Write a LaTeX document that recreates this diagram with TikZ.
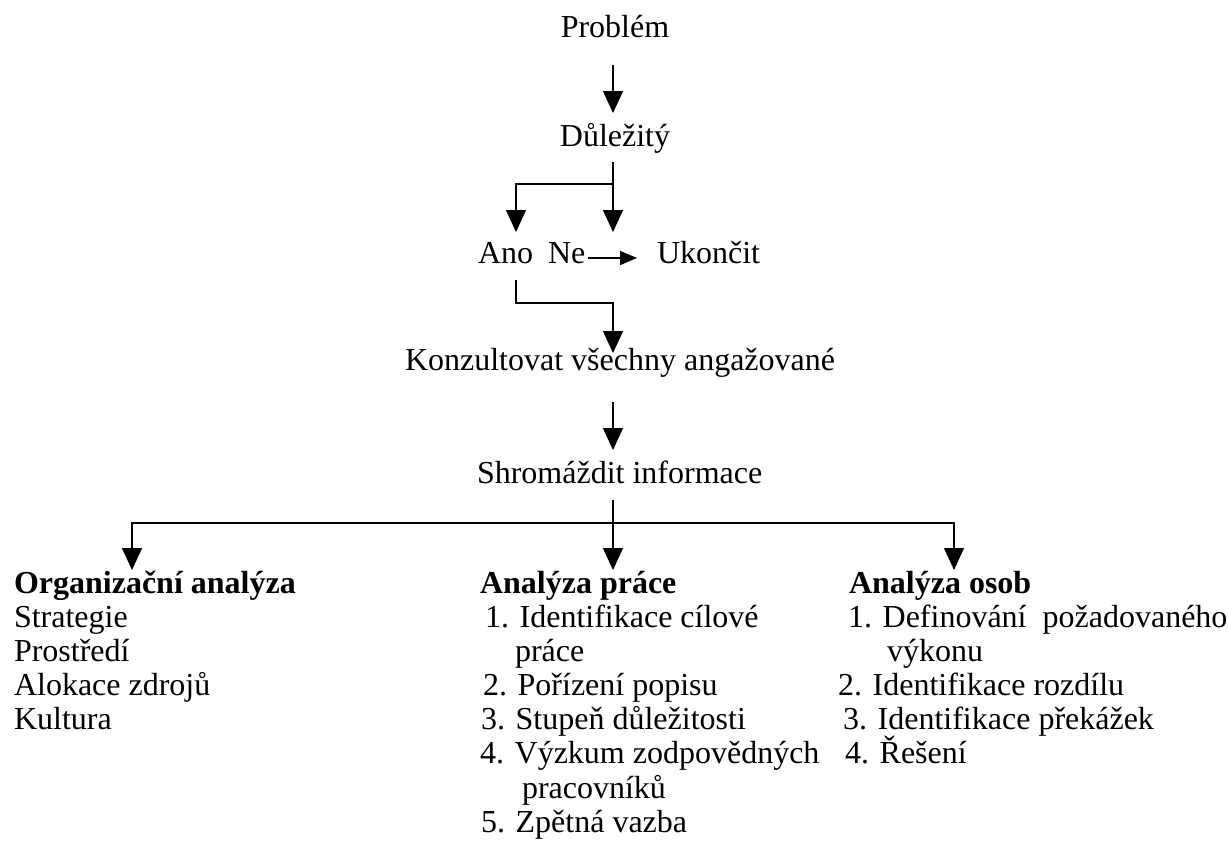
\documentclass[tikz,border=0pt]{standalone}
\usepackage{fontspec}
\setmainfont{Liberation Serif}
\usetikzlibrary{arrows.meta}
\begin{document}
\begin{tikzpicture}[x=1pt,y=-1pt,
  txt/.style={inner sep=0pt,outer sep=0pt,text height=22pt,text depth=7pt,anchor=base west,font=\fontsize{32}{34}\selectfont},
  ctxt/.style={txt,anchor=base},
  hd/.style={txt,font=\fontsize{32}{34}\selectfont\bfseries},
  conn/.style={line width=1.2pt,line join=miter},
  arr/.style={conn,-{Triangle[width=20pt,length=22pt]}},
  sarr/.style={conn,-{Triangle[width=14pt,length=17pt]}}]
\useasboundingbox (0,0) rectangle (1228,857);
% top flow
\node[ctxt] (prob) at (615,37) {Problém};
\node[ctxt] (dul) at (615,146) {Důležitý};
\node[txt] (ano) at (478,263) {Ano};
\node[txt] (ne) at (548,263) {Ne};
\node[txt] (uk) at (657,263) {Ukončit};
\node[txt] (konz) at (405,370) {Konzultovat všechny angažované};
\node[txt] (shrom) at (477,483) {Shromáždit informace};
% junction coordinates
\coordinate (j1) at (613,184);
\coordinate (j2) at (516,184);
\coordinate (j3) at (516,303);
\coordinate (j4) at (613,303);
\coordinate (j5) at (613,523);
\coordinate (j6) at (132,523);
\coordinate (j7) at (954,523);
% columns
\node[hd] (org) at (14,593) {Organizační analýza};
\node[txt] (o1) at (14,627) {Strategie};
\node[txt] (o2) at (14,661) {Prostředí};
\node[txt] (o3) at (14,695) {Alokace zdrojů};
\node[txt] (o4) at (14,729) {Kultura};
\node[hd] (prace) at (480,593) {Analýza práce};
\node[txt] (p1) at (485,627) {1. Identifikace cílové};
\node[txt] (p1b) at (515,661) {práce};
\node[txt] (p2) at (483,695) {2. Pořízení popisu};
\node[txt] (p3) at (481,729) {3. Stupeň důležitosti};
\node[txt] (p4) at (480,763) {4. Výzkum zodpovědných};
\node[txt] (p4b) at (522,798) {pracovníků};
\node[txt] (p5) at (481,832) {5. Zpětná vazba};
\node[hd] (osob) at (849,593) {Analýza osob};
\node[txt] (s1) at (848,627) {1. Definování\ \ požadovaného};
\node[txt] (s1b) at (887,661) {výkonu};
\node[txt] (s2) at (838,695) {2. Identifikace rozdílu};
\node[txt] (s3) at (843,729) {3. Identifikace překážek};
\node[txt] (s4) at (845,763) {4. Řešení};
% connectors
\draw[arr,shorten <=21pt,shorten >=11pt] (prob.south -| j1) -- (dul.north -| j1);
\draw[arr,shorten <=9pt,shorten >=9pt] (dul.south -| j1) -- (ne.north -| j1);
\draw[arr,shorten >=9pt] (j1) -- (j2) -- (j2 |- ano.north);
\draw[sarr,shorten <=3pt,shorten >=20pt] ([yshift=-2.5pt]ne.east) -- ([yshift=-2.5pt]uk.west);
\draw[arr,shorten <=10pt,shorten >=-5pt] (ano.south -| j3) -- (j3) -- (j4) -- (j4 |- konz.north);
\draw[arr,shorten <=25pt,shorten >=11pt] (konz.south -| j4) -- (shrom.north -| j4);
\draw[arr,shorten <=10pt,shorten >=1pt] (shrom.south -| j5) -- (j5 |- prace.north);
\draw[arr,shorten >=1pt] (j5) -- (j6) -- (j6 |- org.north);
\draw[arr,shorten >=1pt] (j5) -- (j7) -- (j7 |- osob.north);
\end{tikzpicture}
\end{document}
